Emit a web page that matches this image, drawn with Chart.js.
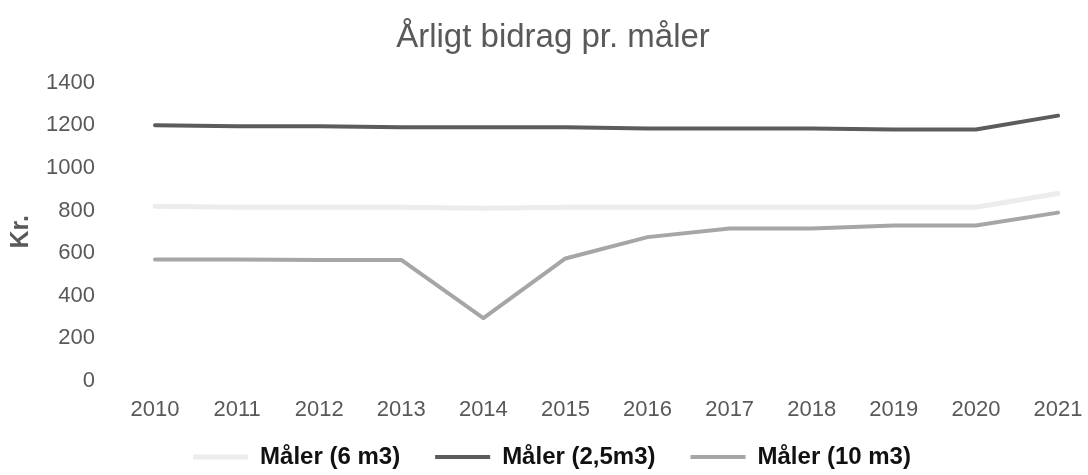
<!DOCTYPE html>
<html>
<head>
<meta charset="utf-8">
<script src="https://cdn.jsdelivr.net/npm/chart.js@4"></script>
<style>
  html, body { margin: 0; padding: 0; background: #fff; overflow: hidden; }
  #wrap { width: 1088px; height: 475px; }
</style>
</head>
<body>
<div id="wrap"><canvas id="bidrag"></canvas></div>
<script>
// years on the x axis
const years = ['2010', '2011', '2012', '2013', '2014', '2015', '2016', '2017', '2018', '2019', '2020', '2021'];

// yearly contribution per meter (kr.)
const maler6 = [820, 815, 815, 815, 810, 815, 815, 815, 815, 815, 815, 880];
const maler25 = [1200, 1195, 1195, 1190, 1190, 1190, 1185, 1185, 1185, 1180, 1180, 1245];
const maler10 = [570, 570, 568, 568, 295, 575, 675, 715, 715, 730, 730, 790];

const yTicks = [0, 200, 400, 600, 800, 1000, 1200, 1400];

const fontFamily = 'Liberation Sans, Arial, sans-serif';

// move title and legend a bit, like in the original
const nudgeBoxes = {
  id: 'nudgeBoxes',
  afterLayout(chart) {
    chart.legend.left += 8;
    chart.legend.right += 8;
    chart.legend.top -= 13;
    chart.legend.bottom -= 13;
    chart.titleBlock.left += 9;
    chart.titleBlock.right += 9;
  }
};

const ctx = document.getElementById('bidrag');

const chart = new Chart(ctx, {
  type: 'line',
  data: {
    labels: years,
    datasets: [
      {
        label: 'Måler (6 m3)',
        data: maler6,
        borderColor: '#ececec',
        backgroundColor: '#ececec',
        borderWidth: 5
      },
      {
        label: 'Måler (2,5m3)',
        data: maler25,
        borderColor: '#5c5c5c',
        backgroundColor: '#5c5c5c',
        borderWidth: 4
      },
      {
        label: 'Måler (10 m3)',
        data: maler10,
        borderColor: '#a6a6a6',
        backgroundColor: '#a6a6a6',
        borderWidth: 4
      }
    ]
  },
  plugins: [nudgeBoxes],
  options: {
    responsive: true,
    maintainAspectRatio: false,
    animation: false,
    layout: { padding: { left: 0, right: 0, top: 0, bottom: -17 } },
    elements: {
      point: { radius: 0, hoverRadius: 0 },
      line: { tension: 0, borderCapStyle: 'round', borderJoinStyle: 'round' }
    },
    plugins: {
      title: {
        display: true,
        text: 'Årligt bidrag pr. måler',
        color: '#595959',
        font: { family: fontFamily, size: 33, weight: 'normal' },
        padding: { top: 18, bottom: 25 }
      },
      legend: {
        position: 'bottom',
        labels: {
          usePointStyle: true,
          pointStyle: 'line',
          pointStyleWidth: 55,
          color: '#111',
          padding: 35,
          font: { family: fontFamily, size: 24, weight: 'bold' }
        }
      },
      tooltip: { enabled: false }
    },
    scales: {
      x: {
        offset: false,
        grid: { display: false, drawTicks: false },
        border: { display: false },
        ticks: {
          color: '#595959',
          padding: 16,
          maxRotation: 0,
          font: { family: fontFamily, size: 22 }
        },
        afterFit: (axis) => {
          axis.height = 42;
          axis.paddingLeft = 0;
          axis.paddingRight = 30;
        }
      },
      y: {
        min: 0,
        max: 1400,
        grid: { display: false, drawTicks: false },
        border: { display: false },
        afterBuildTicks: (axis) => { axis.ticks = yTicks.map(v => ({ value: v })); },
        ticks: {
          color: '#595959',
          padding: 60,
          font: { family: fontFamily, size: 22 },
          callback: (v) => String(v)
        },
        title: {
          display: true,
          text: 'Kr.',
          color: '#595959',
          padding: { top: 6, bottom: 0 },
          font: { family: fontFamily, size: 25, weight: 'bold' }
        },
        afterFit: (axis) => { axis.width = 155; }
      }
    }
  }
});
</script>
</body>
</html>
